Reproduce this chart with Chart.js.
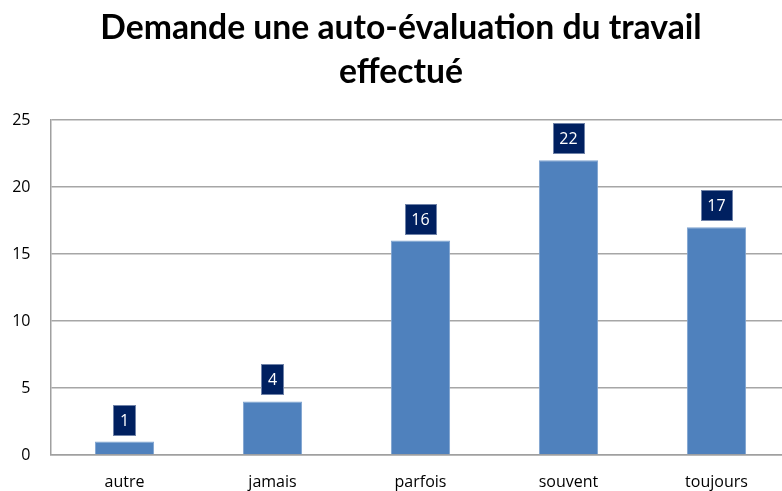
<!DOCTYPE html>
<html>
<head>
<meta charset="utf-8">
<script src="https://cdn.jsdelivr.net/npm/chart.js@4"></script>
<style>
  html, body { margin: 0; padding: 0; background: #fff; overflow: hidden; }
  #wrap { width: 812px; height: 491px; }
</style>
</head>
<body>
<div id="wrap"><canvas id="chart" width="812" height="491"></canvas></div>
<script>
// Data
const categories = ['autre', 'jamais', 'parfois', 'souvent', 'toujours'];
const counts = [1, 4, 16, 22, 17];
const titleLines = ['Demande une auto-évaluation du travail', 'effectué'];

// Value boxes above the bars
const valueBoxes = {
    id: 'valueBoxes',
    afterDatasetsDraw(chart) {
        const ctx = chart.ctx;
        const meta = chart.getDatasetMeta(0);
        ctx.save();
        ctx.font = '16px "Open Sans", sans-serif';
        ctx.textAlign = 'center';
        ctx.textBaseline = 'middle';
        meta.data.forEach((bar, i) => {
            const text = String(counts[i]);
            const w = Math.round(ctx.measureText(text).width + 14);
            const h = 31;
            const x = Math.round(bar.x - w / 2);
            const y = Math.round(bar.y - 6 - h);
            ctx.fillStyle = '#002060';
            ctx.fillRect(x, y, w, h);
            ctx.strokeStyle = '#6f82a8';
            ctx.lineWidth = 1;
            ctx.strokeRect(x + 0.5, y + 0.5, w - 1, h - 1);
            ctx.fillStyle = '#ffffff';
            ctx.fillText(text, bar.x, y + h / 2 + 1);
        });
        ctx.restore();
    }
};

new Chart(document.getElementById('chart'), {
    type: 'bar',
    data: {
        labels: categories,
        datasets: [{
            data: counts,
            backgroundColor: '#4F81BD',
            borderColor: '#7FA3D0',
            borderWidth: 1,
            barPercentage: 0.4,
            categoryPercentage: 1
        }]
    },
    options: {
        responsive: false,
        animation: false,
        // left padding nudges the title towards the original centre
        layout: { padding: { left: 11.5, right: 21.5, top: 0, bottom: 0 } },
        plugins: {
            legend: { display: false },
            tooltip: { enabled: false },
            title: {
                display: true,
                text: titleLines,
                color: '#000',
                font: { family: 'Lato, sans-serif', size: 33.7, weight: 'bold', lineHeight: 1.305 },
                padding: { top: 6, bottom: 26 }
            }
        },
        scales: {
            x: {
                grid: { display: false, drawTicks: false },
                border: { color: '#A0A0A0', width: 1.5 },
                ticks: {
                    color: '#000',
                    padding: 18,
                    font: { family: '"Open Sans", sans-serif', size: 16 }
                },
                afterFit(scale) { scale.height = 36; }
            },
            y: {
                min: 0,
                max: 25,
                ticks: {
                    stepSize: 5,
                    color: '#000',
                    padding: 20,
                    font: { family: '"Open Sans", sans-serif', size: 16 }
                },
                grid: { color: '#A6A6A6', lineWidth: 1.5, drawTicks: false },
                border: { color: '#A0A0A0', width: 1.5 },
                afterFit(scale) { scale.width = 39; }
            }
        }
    },
    plugins: [valueBoxes]
});
</script>
</body>
</html>
